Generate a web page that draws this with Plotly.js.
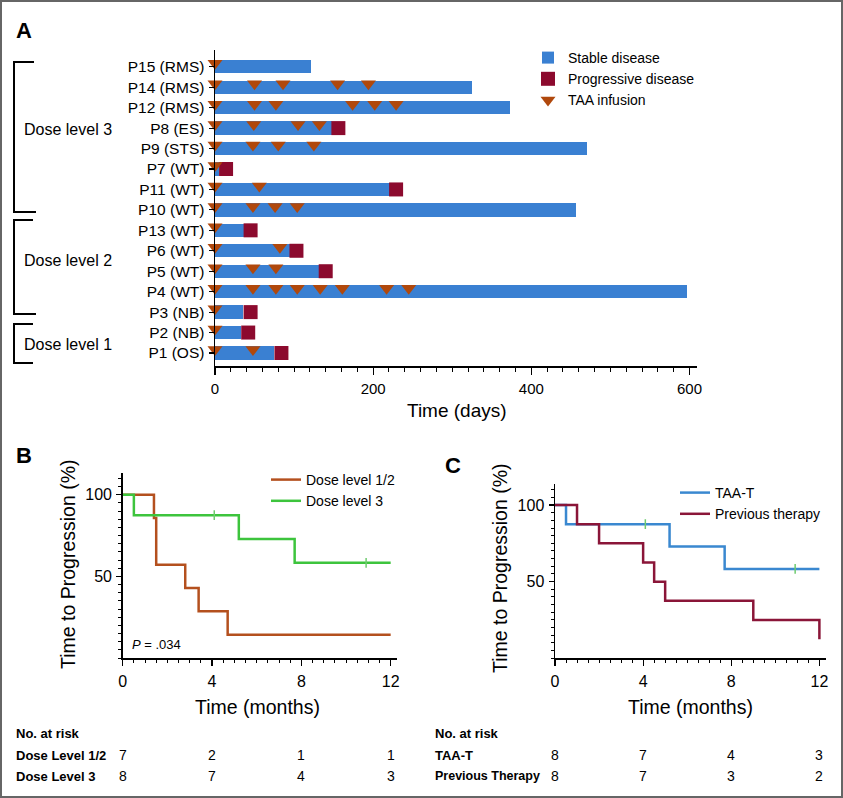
<!DOCTYPE html>
<html><head><meta charset="utf-8">
<script src="https://cdn.plot.ly/plotly-3.0.1.min.js"></script>
<style>html,body{margin:0;padding:0;background:#fff}#chart{width:843px;height:798px}</style>
</head><body><div id="chart"></div>
<script>
// ---------- Panel A data (listed top to bottom) ----------
const patients = ['P15 (RMS)','P14 (RMS)','P12 (RMS)','P8 (ES)','P9 (STS)','P7 (WT)','P11 (WT)','P10 (WT)','P13 (WT)','P6 (WT)','P5 (WT)','P4 (WT)','P3 (NB)','P2 (NB)','P1 (OS)'];
const stableDays = [121, 325, 373, 148, 470, 5, 223, 457, 40, 101, 132, 597, 35, 33, 75];
const progressionDays = [null, null, null, 156, null, 14, 229, null, 45, 103, 140, null, 45, 42, 84];
const infusionDays = [
  [0],
  [0, 50, 86, 155, 194],
  [0, 50, 77, 174, 202, 229],
  [0, 49, 105, 132],
  [0, 48, 80, 125],
  [0],
  [0, 56],
  [0, 48, 76, 104],
  [0],
  [0, 82],
  [0, 48, 77],
  [0, 48, 77, 104, 133, 161, 217, 245],
  [0],
  [0],
  [0, 48]
];
const dayTicks = [0, 200, 400, 600];

// ---------- Panel B data ----------
const dl12Times = [0, 1.4, 1.5, 2.8, 3.4, 4.7, 12];
const dl12Surv  = [100, 85.7, 57.1, 42.9, 28.6, 14.3, 14.3];
const dl3Times  = [0, 0.5, 5.2, 7.7, 12];
const dl3Surv   = [100, 87.5, 72.9, 58.3, 58.3];
const dl3CensorTimes = [4.1, 10.9];
const dl3CensorSurv  = [87.5, 58.3];

// ---------- Panel C data ----------
const taaTimes = [0, 0.5, 5.2, 7.7, 12];
const taaSurv  = [100, 87.5, 72.9, 58.3, 58.3];
const taaCensorTimes = [4.1, 10.9];
const taaCensorSurv  = [87.5, 58.3];
const prevTimes = [0, 1.0, 2.0, 4.0, 4.5, 5.0, 9.0, 12.0];
const prevSurv  = [100, 87.5, 75, 62.5, 50, 37.5, 25, 12.5];

// ---------- Numbers at risk ----------
const riskMonths = [0, 4, 8, 12];
const riskDL12 = [7, 2, 1, 1];
const riskDL3  = [8, 7, 4, 3];
const riskTAA  = [8, 7, 4, 3];
const riskPrev = [8, 7, 3, 2];
const monthTicks = [0, 4, 8, 12];

// ---------- helpers ----------
const W = 843, H = 798;
const fx = x => x / W;
const fy = y => 1 - y / H;
const SANS = 'Liberation Sans, Arial, Helvetica, sans-serif';

const n = patients.length;
const rowIdx = patients.map((p, i) => n - 1 - i);

const progX = [], progY = [];
progressionDays.forEach((d, i) => { if (d !== null) { progX.push(d); progY.push(rowIdx[i]); } });
const infX = [], infY = [];
infusionDays.forEach((arr, i) => arr.forEach(d => { infX.push(d); infY.push(rowIdx[i] + 0.17); }));

const C_STABLE = '#3A80D2', C_PROG = '#8C0A2E', C_TAA = '#B0480C';
const C_DL12 = '#B4501E', C_DL3 = '#3DC43D', C_TAAT = '#3A88D0', C_PREV = '#8A1538';

const traces = [
  { type: 'bar', orientation: 'h', name: 'Stable disease', y: rowIdx, x: stableDays, base: 0,
    width: 0.65, marker: { color: C_STABLE }, xaxis: 'x', yaxis: 'y', legend: 'legend' },
  { type: 'scatter', mode: 'markers', name: 'Progressive disease', x: progX, y: progY,
    marker: { symbol: 'square', size: 14, color: C_PROG }, cliponaxis: false, xaxis: 'x', yaxis: 'y', legend: 'legend' },
  { type: 'scatter', mode: 'markers', name: 'TAA infusion', x: infX, y: infY,
    marker: { symbol: 'triangle-down', size: 13, color: C_TAA }, cliponaxis: false, xaxis: 'x', yaxis: 'y', legend: 'legend' },

  { type: 'scatter', mode: 'lines', name: 'Dose level 1/2', x: dl12Times, y: dl12Surv,
    line: { shape: 'hv', color: C_DL12, width: 2.5 }, xaxis: 'x2', yaxis: 'y2', legend: 'legend2', cliponaxis: false },
  { type: 'scatter', mode: 'lines', name: 'Dose level 3', x: dl3Times, y: dl3Surv,
    line: { shape: 'hv', color: C_DL3, width: 2.5 }, xaxis: 'x2', yaxis: 'y2', legend: 'legend2', cliponaxis: false },
  { type: 'scatter', mode: 'markers', showlegend: false, x: dl3CensorTimes, y: dl3CensorSurv,
    marker: { symbol: 'line-ns', size: 7, line: { color: '#6FCB6F', width: 1.5 } }, xaxis: 'x2', yaxis: 'y2' },

  { type: 'scatter', mode: 'lines', name: 'TAA-T', x: taaTimes, y: taaSurv,
    line: { shape: 'hv', color: C_TAAT, width: 2.5 }, xaxis: 'x3', yaxis: 'y3', legend: 'legend3', cliponaxis: false },
  { type: 'scatter', mode: 'lines', name: 'Previous therapy', x: prevTimes, y: prevSurv,
    line: { shape: 'hv', color: C_PREV, width: 2.5 }, xaxis: 'x3', yaxis: 'y3', legend: 'legend3', cliponaxis: false },
  { type: 'scatter', mode: 'markers', showlegend: false, x: taaCensorTimes, y: taaCensorSurv,
    marker: { symbol: 'line-ns', size: 7, line: { color: '#6FCB6F', width: 1.5 } }, xaxis: 'x3', yaxis: 'y3' }
];

const axBase = {
  showgrid: false, zeroline: false, showline: true, linecolor: '#000', linewidth: 1.5,
  ticks: 'outside', tickcolor: '#000', tickwidth: 1.2, fixedrange: true
};

const annotations = [];
const ann = (text, x, y, opts) => annotations.push(Object.assign({
  text, x: fx(x), y: fy(y), xref: 'paper', yref: 'paper', showarrow: false,
  xanchor: 'center', yanchor: 'middle', font: { family: SANS, size: 14, color: '#000' }
}, opts || {}));

// panel letters
ann('<b>A</b>', 24, 30, { font: { family: SANS, size: 22, color: '#000' } });
ann('<b>B</b>', 24, 455, { font: { family: SANS, size: 22, color: '#000' } });
ann('<b>C</b>', 453, 465, { font: { family: SANS, size: 22, color: '#000' } });
// dose level labels
ann('Dose level 3', 22, 130, { xanchor: 'left', font: { family: SANS, size: 16, color: '#000' } });
ann('Dose level 2', 22, 260, { xanchor: 'left', font: { family: SANS, size: 16, color: '#000' } });
ann('Dose level 1', 22, 345, { xanchor: 'left', font: { family: SANS, size: 16, color: '#000' } });
// axis titles
ann('Time (days)', 457, 410, { font: { family: SANS, size: 19, color: '#000' } });
ann('Time to Progression (%)', 68, 564, { textangle: -90, font: { family: SANS, size: 19.5, color: '#000' } });
ann('Time to Progression (%)', 500, 568, { textangle: -90, font: { family: SANS, size: 19.5, color: '#000' } });
ann('Time (months)', 257, 707, { font: { family: SANS, size: 19.5, color: '#000' } });
ann('Time (months)', 690, 707, { font: { family: SANS, size: 19.5, color: '#000' } });
ann('<i>P</i> = .034', 130, 644, { xanchor: 'left', font: { family: SANS, size: 13, color: '#000' } });

// numbers at risk
const tblFont = { family: SANS, size: 13, color: '#000' };
ann('<b>No. at risk</b>', 14, 733, { xanchor: 'left', font: tblFont });
ann('<b>Dose Level 1/2</b>', 14, 755, { xanchor: 'left', font: tblFont });
ann('<b>Dose Level 3</b>', 14, 776, { xanchor: 'left', font: tblFont });
ann('<b>No. at risk</b>', 433, 733, { xanchor: 'left', font: tblFont });
ann('<b>TAA-T</b>', 433, 755, { xanchor: 'left', font: tblFont });
ann('<b>Previous Therapy</b>', 433, 776, { xanchor: 'left', font: { family: SANS, size: 12.5, color: '#000' } });
const riskRow = (vals, xref, y) => vals.forEach((v, i) => annotations.push({
  text: String(v), x: riskMonths[i], xref: xref, y: fy(y), yref: 'paper', showarrow: false,
  xanchor: 'center', yanchor: 'middle', font: { family: SANS, size: 14, color: '#000' }
}));
riskRow(riskDL12, 'x2', 755);
riskRow(riskDL3, 'x2', 776);
riskRow(riskTAA, 'x3', 755);
riskRow(riskPrev, 'x3', 776);

// brackets + border
const P = (x, y) => `${fx(x)},${fy(y)}`;
const bracket = (y0, y1, xr0, xr1) => ({
  type: 'path', xref: 'paper', yref: 'paper',
  path: `M${P(xr0, y0)} L${P(14, y0)} L${P(14, y1)} L${P(xr1, y1)}`,
  line: { color: '#000', width: 2 }
});
const shapes = [
  bracket(62, 212, 34, 36),
  bracket(220, 314, 33, 36),
  bracket(324, 363, 33, 33),
  { type: 'rect', xref: 'paper', yref: 'paper', x0: fx(1), x1: fx(842), y0: fy(797), y1: fy(1),
    line: { color: '#666', width: 2 }, fillcolor: 'rgba(0,0,0,0)' }
];

const layout = {
  width: W, height: H, margin: { l: 0, r: 0, t: 0, b: 0 },
  paper_bgcolor: '#fff', plot_bgcolor: 'rgba(0,0,0,0)',
  font: { family: SANS, size: 14, color: '#000' },
  bargap: 0,
  xaxis: Object.assign({}, axBase, {
    domain: [fx(215), fx(697)], range: [0, 609.5], anchor: 'y',
    tickmode: 'array', tickvals: dayTicks, ticklen: 7, ticklabelstandoff: 1,
    tickfont: { family: SANS, size: 15, color: '#000' },
    minor: { dtick: 20, tick0: 0, ticks: 'outside', ticklen: 4, tickcolor: '#000', tickwidth: 1 }
  }),
  yaxis: Object.assign({}, axBase, {
    domain: [fy(366), fy(50)], range: [-0.636, 14.82], anchor: 'x',
    tickmode: 'array', tickvals: rowIdx, ticktext: patients, ticklen: 5, ticklabelstandoff: 1,
    tickfont: { family: SANS, size: 15.5, color: '#000' }
  }),
  xaxis2: Object.assign({}, axBase, {
    domain: [fx(122.7), fx(396.7)], range: [0, 12.27], anchor: 'y2',
    tickmode: 'array', tickvals: monthTicks, ticklen: 6, ticklabelstandoff: 2,
    tickfont: { family: SANS, size: 16, color: '#000' },
    minor: { dtick: 0.5, tick0: 0, ticks: 'outside', ticklen: 3, tickcolor: '#000', tickwidth: 1 }
  }),
  yaxis2: Object.assign({}, axBase, {
    domain: [fy(658), fy(473)], range: [0, 113.3], anchor: 'x2',
    tickmode: 'array', tickvals: [50, 100], ticklen: 5, ticklabelstandoff: 1,
    tickfont: { family: SANS, size: 16, color: '#000' },
    minor: { dtick: 5, tick0: 0, ticks: 'outside', ticklen: 3, tickcolor: '#000', tickwidth: 1 }
  }),
  xaxis3: Object.assign({}, axBase, {
    domain: [fx(555), fx(826)], range: [0, 12.3], anchor: 'y3',
    tickmode: 'array', tickvals: monthTicks, ticklen: 6, ticklabelstandoff: 2,
    tickfont: { family: SANS, size: 16, color: '#000' },
    minor: { dtick: 0.5, tick0: 0, ticks: 'outside', ticklen: 3, tickcolor: '#000', tickwidth: 1 }
  }),
  yaxis3: Object.assign({}, axBase, {
    domain: [fy(658.3), fy(484)], range: [0, 113.7], anchor: 'x3',
    tickmode: 'array', tickvals: [50, 100], ticklen: 5, ticklabelstandoff: 1,
    tickfont: { family: SANS, size: 16, color: '#000' },
    minor: { dtick: 5, tick0: 0, ticks: 'outside', ticklen: 3, tickcolor: '#000', tickwidth: 1 }
  }),
  showlegend: true,
  legend: { x: fx(528), y: fy(42), xanchor: 'left', yanchor: 'top', bgcolor: 'rgba(0,0,0,0)',
    font: { family: SANS, size: 14, color: '#000' }, tracegroupgap: 0 },
  legend2: { x: fx(266), y: fy(464), xanchor: 'left', yanchor: 'top', bgcolor: 'rgba(0,0,0,0)',
    font: { family: SANS, size: 14, color: '#000' }, tracegroupgap: 0 },
  legend3: { x: fx(675), y: fy(477), xanchor: 'left', yanchor: 'top', bgcolor: 'rgba(0,0,0,0)',
    font: { family: SANS, size: 14, color: '#000' }, tracegroupgap: 0 },
  annotations, shapes
};

Plotly.newPlot('chart', traces, layout, { displayModeBar: false, staticPlot: true });
</script>
</body></html>
